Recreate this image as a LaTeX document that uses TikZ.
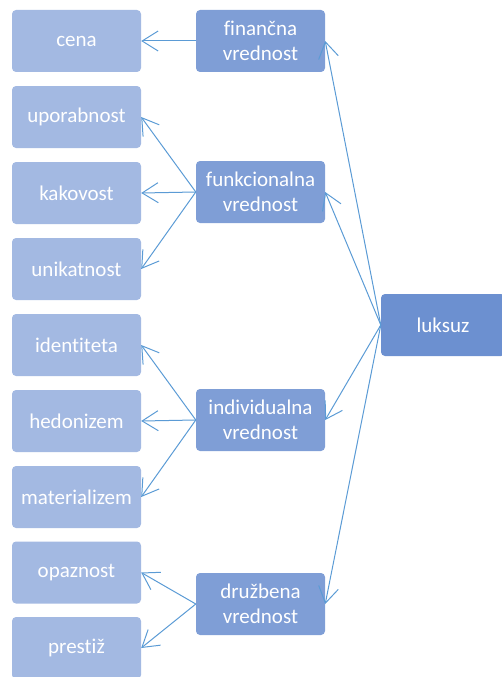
\documentclass[tikz,border=0pt]{standalone}
\usepackage{fontspec}
\setmainfont[Ligatures={NoCommon}]{Carlito}
\usetikzlibrary{arrows.meta}
\definecolor{leafc}{HTML}{A3B9E2}
\definecolor{midc}{HTML}{7F9ED6}
\definecolor{rootc}{HTML}{6C90D0}
\definecolor{arrc}{HTML}{5B9BD5}
\begin{document}
\begin{tikzpicture}[x=1pt,y=-1pt,
  box/.style={rounded corners=4pt, inner sep=0pt, text=white, align=center,
    font=\fontsize{21}{24.5}\selectfont, minimum height=62pt},
  leaf/.style={box, fill=leafc, minimum width=129pt},
  mid/.style={box, fill=midc, minimum width=129pt},
  root/.style={box, fill=rootc, minimum width=124pt},
  link/.style={draw=arrc, line width=1pt, -{Straight Barb[length=16pt,width=20pt,line width=1pt]}}]
\useasboundingbox (0,0) rectangle (502,677);
% leaves
\node[leaf] (cena) at (76.5,41) {cena};
\node[leaf] (upo) at (76.5,117) {uporabnost};
\node[leaf] (kak) at (76.5,193) {kakovost};
\node[leaf] (uni) at (76.5,269) {unikatnost};
\node[leaf] (ide) at (76.5,345) {identiteta};
\node[leaf] (hed) at (76.5,421) {hedonizem};
\node[leaf] (mat) at (76.5,497) {materializem};
\node[leaf] (opa) at (76.5,572.5) {opaznost};
\node[leaf] (pre) at (76.5,648) {prestiž};
% middle
\node[mid] (fin) at (260.5,41) {finančna\\vrednost};
\node[mid] (fun) at (260.5,192) {funkcionalna\\vrednost};
\node[mid] (ind) at (260.5,420) {individualna\\vrednost};
\node[mid] (dru) at (260.5,604) {družbena\\vrednost};
% root
\node[root] (lux) at (443,325) {luksuz};
% connectors
\draw[link] (fin.west) -- (cena.east);
\draw[link] (fun.west) -- (upo.east);
\draw[link] (fun.west) -- (kak.east);
\draw[link] (fun.west) -- (uni.east);
\draw[link] (ind.west) -- (ide.east);
\draw[link] (ind.west) -- (hed.east);
\draw[link] (ind.west) -- (mat.east);
\draw[link] (dru.west) -- (opa.east);
\draw[link] (dru.west) -- (pre.east);
\draw[link] (lux.west) -- (fin.east);
\draw[link] (lux.west) -- (fun.east);
\draw[link] (lux.west) -- (ind.east);
\draw[link] (lux.west) -- (dru.east);
\end{tikzpicture}
\end{document}
